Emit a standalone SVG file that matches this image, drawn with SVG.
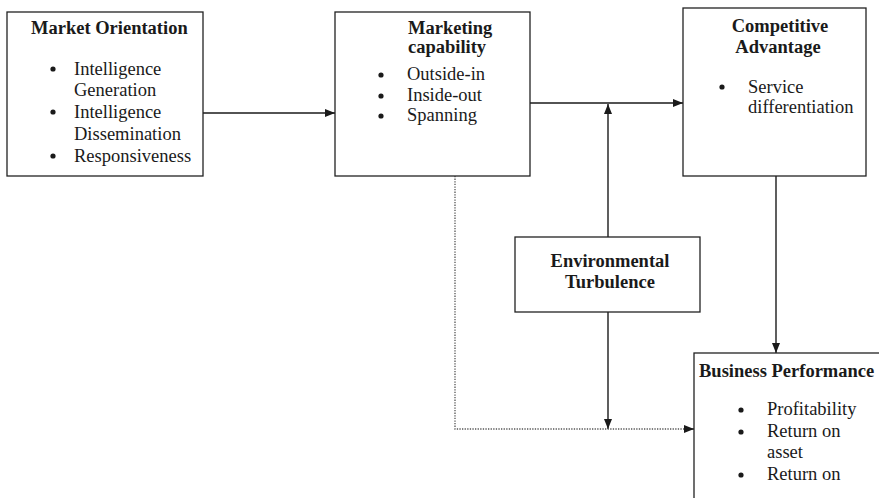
<svg xmlns="http://www.w3.org/2000/svg" width="879" height="498" viewBox="0 0 879 498">
  <style>
    .box { fill: #ffffff; stroke: #222222; stroke-width: 1.3; }
    .t { font-family: "Liberation Serif", "Times New Roman", serif; font-size: 18.5px; fill: #1a1a1a; }
    .b { font-weight: bold; }
    .c { text-anchor: middle; }
    .dot { fill: #1a1a1a; }
    .line { fill: none; stroke: #1a1a1a; stroke-width: 1.4; }
    .dotted { fill: none; stroke: #555555; stroke-width: 1.3; stroke-dasharray: 1.3 1.3; }
  </style>
  <defs>
    <marker id="arrow" viewBox="0 0 10 8" refX="10" refY="4" markerWidth="10" markerHeight="8" markerUnits="userSpaceOnUse" orient="auto">
      <path d="M0,0 L10,4 L0,8 Z" fill="#1a1a1a"/>
    </marker>
  </defs>

  <rect width="879" height="498" fill="#ffffff"/>

  <g id="connectors">
    <line class="line" x1="203" y1="113" x2="335" y2="113" marker-end="url(#arrow)"/>
    <line class="line" x1="530" y1="103" x2="683" y2="103" marker-end="url(#arrow)"/>
    <line class="line" x1="608" y1="237" x2="608" y2="104" marker-end="url(#arrow)"/>
    <line class="line" x1="608" y1="312" x2="608" y2="429" marker-end="url(#arrow)"/>
    <line class="line" x1="776" y1="176" x2="776" y2="353" marker-end="url(#arrow)"/>
    <polyline class="dotted" points="455,176 455,429 685,429"/>
    <line class="line" x1="684" y1="429" x2="694" y2="429" marker-end="url(#arrow)"/>
  </g>

  <g id="market-orientation">
    <rect class="box" x="7" y="12" width="196" height="164"/>
    <text class="t b" x="31" y="34">Market Orientation</text>
    <circle class="dot" cx="53" cy="69" r="2.6"/>
    <text class="t" x="74" y="75">Intelligence</text>
    <text class="t" x="74" y="96">Generation</text>
    <circle class="dot" cx="53" cy="112" r="2.6"/>
    <text class="t" x="74" y="118">Intelligence</text>
    <text class="t" x="74" y="140">Dissemination</text>
    <circle class="dot" cx="53" cy="156" r="2.6"/>
    <text class="t" x="74" y="162">Responsiveness</text>
  </g>

  <g id="marketing-capability">
    <rect class="box" x="335" y="12" width="195" height="164"/>
    <text class="t b" x="408" y="34">Marketing</text>
    <text class="t b" x="408" y="53">capability</text>
    <circle class="dot" cx="381" cy="75" r="2.6"/>
    <text class="t" x="407" y="80">Outside-in</text>
    <circle class="dot" cx="381" cy="96" r="2.6"/>
    <text class="t" x="407" y="101">Inside-out</text>
    <circle class="dot" cx="381" cy="116" r="2.6"/>
    <text class="t" x="407" y="121">Spanning</text>
  </g>

  <g id="competitive-advantage">
    <rect class="box" x="683" y="8" width="183" height="168"/>
    <text class="t b c" x="780" y="32">Competitive</text>
    <text class="t b c" x="778" y="53">Advantage</text>
    <circle class="dot" cx="722" cy="87" r="2.6"/>
    <text class="t" x="748" y="93">Service</text>
    <text class="t" x="748" y="113">differentiation</text>
  </g>

  <g id="environmental-turbulence">
    <rect class="box" x="515" y="237" width="185" height="75"/>
    <text class="t b c" x="610" y="267">Environmental</text>
    <text class="t b c" x="610" y="288">Turbulence</text>
  </g>

  <g id="business-performance">
    <rect class="box" x="694" y="353" width="200" height="160"/>
    <text class="t b" x="699" y="377">Business Performance</text>
    <circle class="dot" cx="741" cy="410" r="2.6"/>
    <text class="t" x="767" y="415">Profitability</text>
    <circle class="dot" cx="741" cy="432" r="2.6"/>
    <text class="t" x="767" y="437">Return on</text>
    <text class="t" x="767" y="458">asset</text>
    <circle class="dot" cx="741" cy="475" r="2.6"/>
    <text class="t" x="767" y="480">Return on</text>
  </g>
</svg>
